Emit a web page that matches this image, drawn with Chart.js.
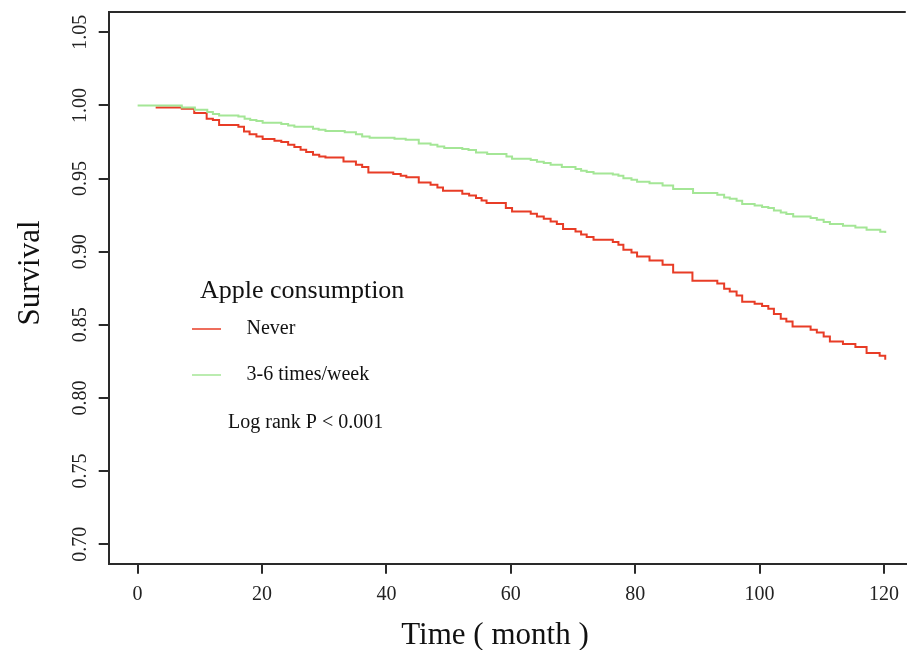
<!DOCTYPE html>
<html>
<head>
<meta charset="utf-8">
<script src="https://cdn.jsdelivr.net/npm/chart.js@4.4.1/dist/chart.umd.min.js"></script>
<style>
  html, body { margin: 0; padding: 0; background: #fff; }
  #wrap { width: 908px; height: 650px; }
</style>
</head>
<body>
<div id="wrap"><canvas id="km" width="908" height="650"></canvas></div>
<script>
// Kaplan-Meier steps (time in months, survival after each step)
const neverTime = [2.9, 7.1, 9.1, 11.1, 12.1, 13.1, 16.2, 17.1, 18.0, 19.1, 20.1, 22.0, 23.1, 24.2, 25.2, 26.2, 27.1, 28.2, 29.2, 30.2,
    33.1, 35.1, 36.1, 37.1, 41.1, 42.3, 43.2, 45.2, 47.1, 48.2, 49.1, 52.2, 53.3, 54.4, 55.3, 56.1, 59.2, 60.2, 63.2, 64.2,
    65.3, 66.4, 67.4, 68.4, 70.4, 71.3, 72.2, 73.3, 76.4, 77.3, 78.1, 79.4, 80.3, 82.3, 84.4, 86.1, 89.2, 93.2, 94.3, 95.2,
    96.3, 97.2, 99.2, 100.4, 101.4, 102.3, 103.4, 104.3, 105.3, 108.2, 109.2, 110.3, 111.3, 113.4, 115.4, 117.2, 119.3, 120.2];
const neverSurv = [0.9986, 0.9977, 0.9948, 0.9909, 0.9900, 0.9866, 0.9854, 0.9822, 0.9804, 0.9788, 0.9770, 0.9759, 0.9750, 0.9731, 0.9716, 0.9697, 0.9681, 0.9663, 0.9651, 0.9645,
    0.9617, 0.9595, 0.9579, 0.9542, 0.9531, 0.9519, 0.9510, 0.9474, 0.9458, 0.9439, 0.9417, 0.9396, 0.9385, 0.9367, 0.9351, 0.9333, 0.9299, 0.9275, 0.9260, 0.9241,
    0.9225, 0.9207, 0.9189, 0.9155, 0.9139, 0.9118, 0.9100, 0.9082, 0.9066, 0.9048, 0.9014, 0.8995, 0.8968, 0.8940, 0.8911, 0.8858, 0.8802, 0.8783, 0.8747, 0.8728,
    0.8701, 0.8658, 0.8644, 0.8629, 0.8610, 0.8574, 0.8542, 0.8523, 0.8489, 0.8467, 0.8448, 0.8421, 0.8387, 0.8369, 0.8348, 0.8307, 0.8289, 0.8262];

const weekTime = [0, 7.1, 9.2, 11.2, 12.1, 13.1, 16.2, 17.2, 18.1, 19.1, 20.1, 23.1, 24.2, 25.2, 28.2, 29.1, 30.2, 33.3, 35.1, 36.1,
    37.3, 41.3, 43.1, 45.2, 47.1, 48.2, 49.3, 52.2, 53.2, 54.4, 56.2, 59.3, 60.2, 63.2, 64.2, 65.3, 66.4, 68.2, 70.4, 71.3,
    72.2, 73.3, 76.4, 77.3, 78.1, 79.4, 80.3, 82.3, 84.4, 86.1, 89.3, 93.2, 94.3, 95.2, 96.3, 97.2, 99.2, 100.4, 101.4, 102.3,
    103.4, 104.3, 105.4, 108.2, 109.2, 110.3, 111.3, 113.4, 115.4, 117.2, 119.4, 120.2];
const weekSurv = [1.0000, 0.9986, 0.9971, 0.9955, 0.9941, 0.9932, 0.9925, 0.9909, 0.9900, 0.9893, 0.9882, 0.9873, 0.9863, 0.9854, 0.9841, 0.9834, 0.9825, 0.9816, 0.9804, 0.9788,
    0.9779, 0.9772, 0.9766, 0.9740, 0.9731, 0.9720, 0.9709, 0.9702, 0.9695, 0.9679, 0.9668, 0.9651, 0.9636, 0.9627, 0.9615, 0.9606, 0.9595, 0.9579, 0.9565, 0.9554,
    0.9545, 0.9535, 0.9528, 0.9519, 0.9503, 0.9492, 0.9478, 0.9469, 0.9453, 0.9428, 0.9401, 0.9390, 0.9371, 0.9362, 0.9349, 0.9326, 0.9316, 0.9305, 0.9299, 0.9282,
    0.9269, 0.9258, 0.9241, 0.9230, 0.9219, 0.9203, 0.9189, 0.9178, 0.9166, 0.9150, 0.9137, 0.9128];

const xTicks = [0, 20, 40, 60, 80, 100, 120];
const yTicks = [0.70, 0.75, 0.80, 0.85, 0.90, 0.95, 1.00, 1.05];
const groupNames = ["Never", "3-6 times/week"];

const RED = "rgb(232, 60, 38)";
const GREEN = "rgb(164, 230, 150)";
const AXIS = "#2a2a2a";
const SERIF = "'Liberation Serif', 'Times New Roman', serif";

const toPoints = (ts, ss) => ts.map((t, i) => ({ x: t, y: ss[i] }));

// legend, p-value, axis titles and the top of the box
const annotations = {
    id: "annotations",
    afterDraw(chart) {
        const { ctx, chartArea } = chart;
        ctx.save();
        ctx.strokeStyle = AXIS;
        ctx.lineWidth = 2;
        ctx.beginPath();
        ctx.moveTo(chartArea.left, chartArea.top);
        ctx.lineTo(chartArea.right, chartArea.top);
        ctx.stroke();

        ctx.fillStyle = "#111";
        ctx.textBaseline = "alphabetic";
        ctx.textAlign = "left";
        ctx.font = "26px " + SERIF;
        ctx.fillText("Apple consumption", 200, 298);

        ctx.font = "20px " + SERIF;
        [[RED, 329, 334], [GREEN, 375, 380]].forEach(([c, ly, ty], i) => {
            ctx.strokeStyle = c;
            ctx.lineWidth = 1.5;
            ctx.beginPath();
            ctx.moveTo(192, ly);
            ctx.lineTo(221, ly);
            ctx.stroke();
            ctx.fillText(groupNames[i], 246.5, ty);
        });
        ctx.fillText("Log rank P < 0.001", 228, 428);

        ctx.font = "31px " + SERIF;
        ctx.textAlign = "center";
        ctx.fillText("Time ( month )", 495, 644);
        ctx.translate(39, 273);
        ctx.rotate(-Math.PI / 2);
        ctx.fillText("Survival", 0, 0);
        ctx.restore();
    }
};

new Chart(document.getElementById("km"), {
    type: "line",
    data: {
        datasets: [
            {
                label: groupNames[1],
                data: toPoints(weekTime, weekSurv),
                borderColor: GREEN,
                borderWidth: 2,
                stepped: "before",
                pointRadius: 0,
                fill: false
            },
            {
                label: groupNames[0],
                data: toPoints(neverTime, neverSurv),
                borderColor: RED,
                borderWidth: 2,
                stepped: "before",
                pointRadius: 0,
                fill: false
            }
        ]
    },
    options: {
        responsive: false,
        animation: false,
        layout: { padding: { top: 12, left: 0, right: 0, bottom: 0 } },
        plugins: { legend: { display: false }, tooltip: { enabled: false } },
        scales: {
            x: {
                type: "linear",
                min: -4.65,
                max: 123.5,
                afterBuildTicks: (axis) => { axis.ticks = xTicks.map(v => ({ value: v })); },
                afterFit: (axis) => { axis.height = 86.3; },
                ticks: { color: "#222", font: { family: SERIF, size: 20 }, padding: 9, callback: (v) => String(v) },
                grid: { drawOnChartArea: false, drawTicks: true, tickLength: 10, color: AXIS, lineWidth: 2 },
                border: { display: true, color: AXIS, width: 2 }
            },
            y: {
                min: 0.6867,
                max: 1.0639,
                afterBuildTicks: (axis) => { axis.ticks = yTicks.map(v => ({ value: v })); },
                afterFit: (axis) => { axis.width = 108.7; },
                ticks: {
                    color: "#222",
                    font: { family: SERIF, size: 20 },
                    padding: 0,
                    minRotation: 90,
                    maxRotation: 90,
                    crossAlign: "center",
                    callback: (v) => Number(v).toFixed(2)
                },
                grid: { drawOnChartArea: false, drawTicks: true, tickLength: 10, color: AXIS, lineWidth: 2 },
                border: { display: true, color: AXIS, width: 2 }
            }
        }
    },
    plugins: [annotations]
});
</script>
</body>
</html>
